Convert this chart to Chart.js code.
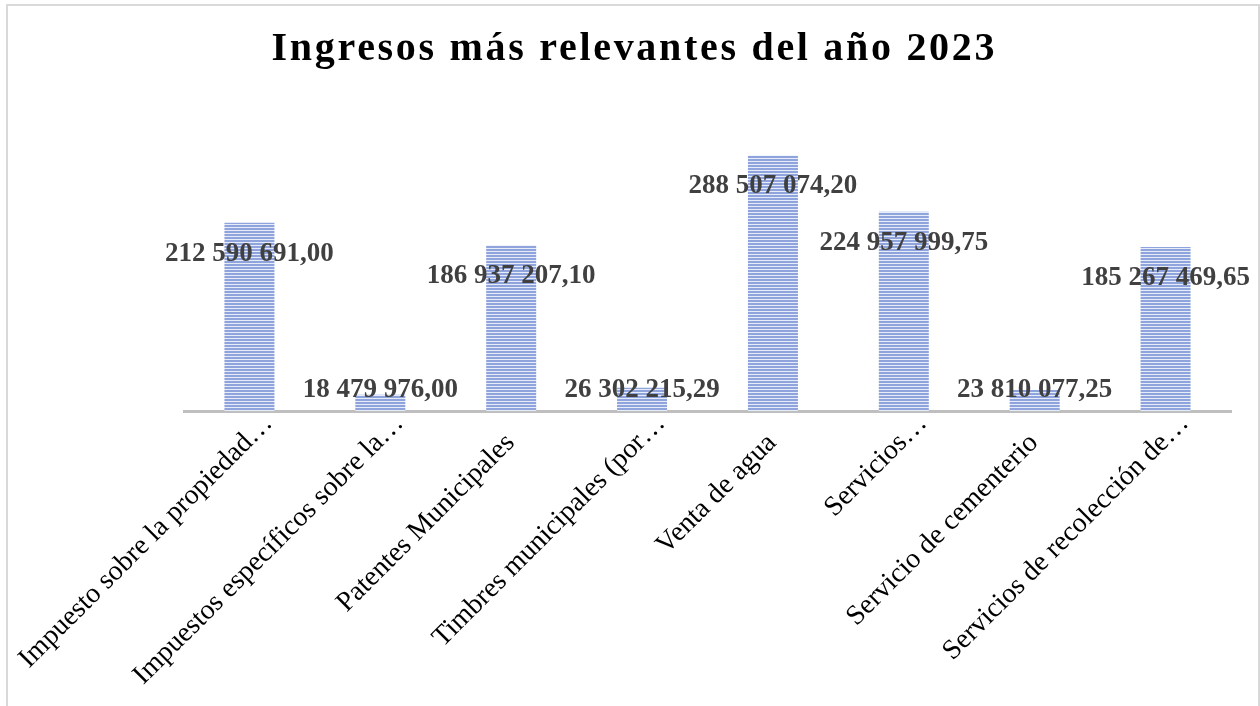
<!DOCTYPE html>
<html>
<head>
<meta charset="utf-8">
<script src="https://cdn.jsdelivr.net/npm/chart.js@4"></script>
<style>
  html, body { margin: 0; padding: 0; background: #fff; }
  #wrap { position: relative; width: 1260px; height: 706px; overflow: hidden; }
  #frame { position: absolute; left: 6px; top: 4px; width: 1250px; height: 720px; border: 2px solid #d9d9d9; pointer-events: none; }
  canvas { position: absolute; left: 0; top: 0; }
</style>
</head>
<body>
<div id="wrap">
  <canvas id="ingresosChart" width="1260" height="706"></canvas>
  <div id="frame"></div>
</div>
<script>
// data
const chartTitle = 'Ingresos más relevantes del año 2023';
const categories = [
    'Impuesto sobre la propiedad…',
    'Impuestos específicos sobre la…',
    'Patentes Municipales',
    'Timbres municipales (por…',
    'Venta de agua',
    'Servicios…',
    'Servicio de cementerio',
    'Servicios de recolección de…'
];
const ingresos = [212590691.00, 18479976.00, 186937207.10, 26302215.29, 288507074.20, 224957999.75, 23810077.25, 185267469.65];

const serif = "'Liberation Serif', 'Times New Roman', serif";

// "212 590 691,00"
function formatValue(v) {
    const parts = v.toFixed(2).split('.');
    return parts[0].replace(/\B(?=(\d{3})+(?!\d))/g, ' ') + ',' + parts[1];
}

// horizontal stripes fill for the bars
function stripePattern() {
    const p = document.createElement('canvas');
    p.width = 4;
    p.height = 3;
    const c = p.getContext('2d');
    c.fillStyle = '#e6ebf8';
    c.fillRect(0, 0, 4, 3);
    c.fillStyle = '#8fa3dd';
    c.fillRect(0, 0, 4, 2);
    return c.createPattern(p, 'repeat');
}

// title with letter spacing
const spacedTitle = {
    id: 'spacedTitle',
    afterDraw(chart) {
        const ctx = chart.ctx;
        ctx.save();
        ctx.font = 'bold 40px ' + serif;
        ctx.fillStyle = '#000';
        ctx.letterSpacing = '2.7px';
        ctx.textAlign = 'left';
        ctx.textBaseline = 'alphabetic';
        const w = ctx.measureText(chartTitle).width - 2.7;
        ctx.fillText(chartTitle, 633 - w / 2, 60);
        ctx.restore();
    }
};

// value labels near the top of each bar
const valueLabels = {
    id: 'valueLabels',
    afterDatasetsDraw(chart) {
        const ctx = chart.ctx;
        const meta = chart.getDatasetMeta(0);
        ctx.save();
        ctx.font = 'bold 27px ' + serif;
        ctx.fillStyle = '#404040';
        ctx.textAlign = 'center';
        ctx.textBaseline = 'alphabetic';
        meta.data.forEach((bar, i) => {
            const y = Math.min(bar.y + 38, bar.base - 14);
            ctx.fillText(formatValue(ingresos[i]), bar.x, y);
        });
        ctx.restore();
    }
};

const ctx = document.getElementById('ingresosChart').getContext('2d');
new Chart(ctx, {
    type: 'bar',
    data: {
        labels: categories,
        datasets: [{
            label: 'Ingresos',
            data: ingresos,
            backgroundColor: stripePattern(),
            borderWidth: 0,
            barPercentage: 0.382,
            categoryPercentage: 1
        }]
    },
    options: {
        responsive: false,
        animation: false,
        devicePixelRatio: 1,
        layout: {
            padding: { left: 184, right: 29, top: 101, bottom: 0 }
        },
        plugins: {
            legend: { display: false },
            title: { display: false },
            tooltip: { enabled: false }
        },
        scales: {
            y: {
                display: false,
                min: 0,
                max: 350000000
            },
            x: {
                grid: { display: false, drawTicks: false },
                border: { display: true, color: '#bfbfbf', width: 3 },
                ticks: {
                    autoSkip: false,
                    minRotation: 45,
                    maxRotation: 45,
                    padding: -4,
                    labelOffset: 19,
                    color: '#000',
                    font: { family: serif, size: 28 },
                    // untruncated labels sit one ellipsis-width further down, like Excel
                    callback: (v, i) => categories[i].endsWith('…') ? categories[i] : categories[i] + '    '
                },
                afterFit(scale) {
                    scale.height = 706 - 411;
                    scale.paddingLeft = 0;
                    scale.paddingRight = 0;
                }
            }
        }
    },
    plugins: [spacedTitle, valueLabels]
});
</script>
</body>
</html>
